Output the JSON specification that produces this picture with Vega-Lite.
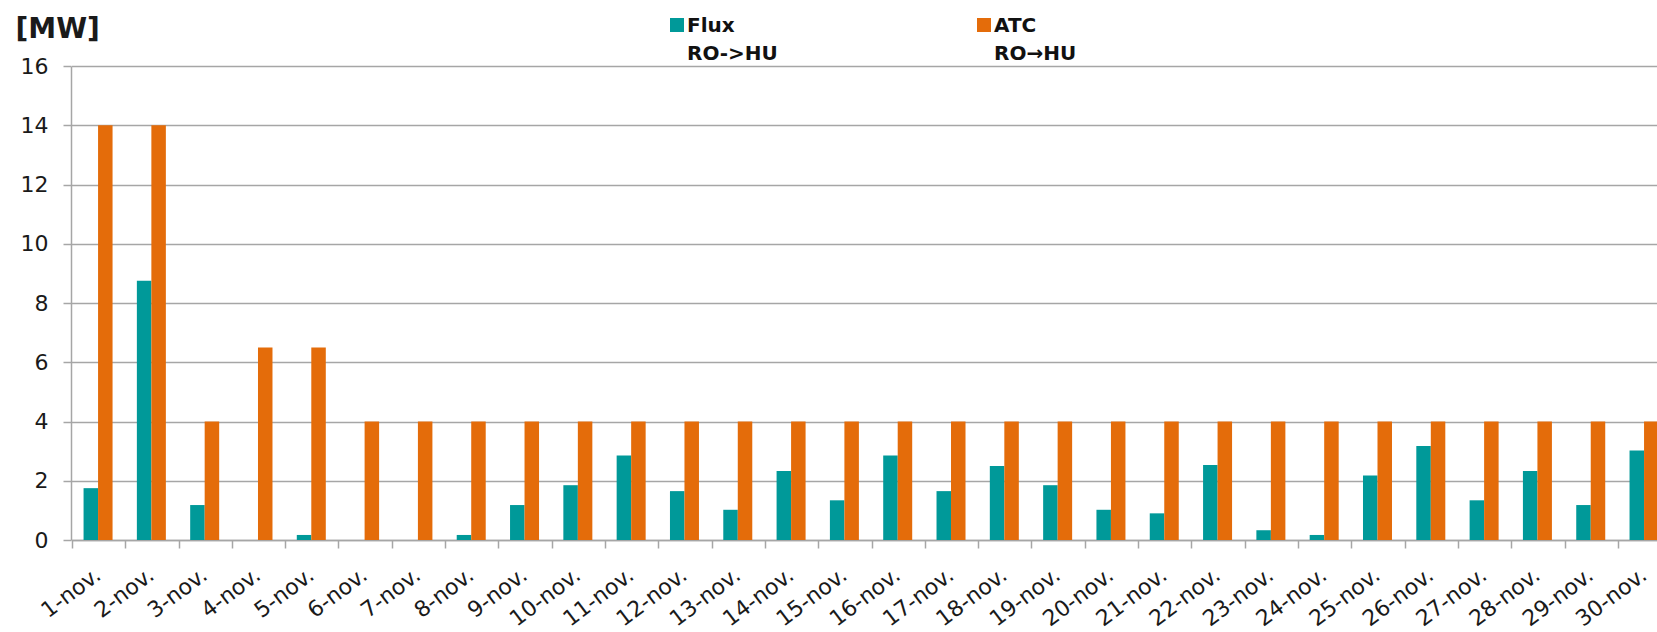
{
  "$schema": "https://vega.github.io/schema/vega-lite/v6.json",
  "width": 1586,
  "height": 474,
  "autosize": {"type": "none"},
  "padding": {"left": 71, "top": 66, "right": 0, "bottom": 92},
  "background": "white",
  "config": {
    "view": {"stroke": null},
    "font": "DejaVu Sans",
    "style": {"guide-label": {"lineHeight": 28}}
  },
  "data": {
    "values": [
      {"day": "1-nov.", "series": "Flux RO->HU", "value": 1.75},
      {"day": "1-nov.", "series": "ATC RO→HU", "value": 14},
      {"day": "2-nov.", "series": "Flux RO->HU", "value": 8.75},
      {"day": "2-nov.", "series": "ATC RO→HU", "value": 14},
      {"day": "3-nov.", "series": "Flux RO->HU", "value": 1.18},
      {"day": "3-nov.", "series": "ATC RO→HU", "value": 4},
      {"day": "4-nov.", "series": "Flux RO->HU", "value": 0},
      {"day": "4-nov.", "series": "ATC RO→HU", "value": 6.5},
      {"day": "5-nov.", "series": "Flux RO->HU", "value": 0.17},
      {"day": "5-nov.", "series": "ATC RO→HU", "value": 6.5},
      {"day": "6-nov.", "series": "Flux RO->HU", "value": 0},
      {"day": "6-nov.", "series": "ATC RO→HU", "value": 4},
      {"day": "7-nov.", "series": "Flux RO->HU", "value": 0},
      {"day": "7-nov.", "series": "ATC RO→HU", "value": 4},
      {"day": "8-nov.", "series": "Flux RO->HU", "value": 0.17},
      {"day": "8-nov.", "series": "ATC RO→HU", "value": 4},
      {"day": "9-nov.", "series": "Flux RO->HU", "value": 1.18},
      {"day": "9-nov.", "series": "ATC RO→HU", "value": 4},
      {"day": "10-nov.", "series": "Flux RO->HU", "value": 1.85},
      {"day": "10-nov.", "series": "ATC RO→HU", "value": 4},
      {"day": "11-nov.", "series": "Flux RO->HU", "value": 2.85},
      {"day": "11-nov.", "series": "ATC RO→HU", "value": 4},
      {"day": "12-nov.", "series": "Flux RO->HU", "value": 1.65},
      {"day": "12-nov.", "series": "ATC RO→HU", "value": 4},
      {"day": "13-nov.", "series": "Flux RO->HU", "value": 1.02},
      {"day": "13-nov.", "series": "ATC RO→HU", "value": 4},
      {"day": "14-nov.", "series": "Flux RO->HU", "value": 2.33},
      {"day": "14-nov.", "series": "ATC RO→HU", "value": 4},
      {"day": "15-nov.", "series": "Flux RO->HU", "value": 1.34},
      {"day": "15-nov.", "series": "ATC RO→HU", "value": 4},
      {"day": "16-nov.", "series": "Flux RO->HU", "value": 2.85},
      {"day": "16-nov.", "series": "ATC RO→HU", "value": 4},
      {"day": "17-nov.", "series": "Flux RO->HU", "value": 1.65},
      {"day": "17-nov.", "series": "ATC RO→HU", "value": 4},
      {"day": "18-nov.", "series": "Flux RO->HU", "value": 2.5},
      {"day": "18-nov.", "series": "ATC RO→HU", "value": 4},
      {"day": "19-nov.", "series": "Flux RO->HU", "value": 1.85},
      {"day": "19-nov.", "series": "ATC RO→HU", "value": 4},
      {"day": "20-nov.", "series": "Flux RO->HU", "value": 1.02},
      {"day": "20-nov.", "series": "ATC RO→HU", "value": 4},
      {"day": "21-nov.", "series": "Flux RO->HU", "value": 0.9},
      {"day": "21-nov.", "series": "ATC RO→HU", "value": 4},
      {"day": "22-nov.", "series": "Flux RO->HU", "value": 2.53},
      {"day": "22-nov.", "series": "ATC RO→HU", "value": 4},
      {"day": "23-nov.", "series": "Flux RO->HU", "value": 0.33},
      {"day": "23-nov.", "series": "ATC RO→HU", "value": 4},
      {"day": "24-nov.", "series": "Flux RO->HU", "value": 0.17},
      {"day": "24-nov.", "series": "ATC RO→HU", "value": 4},
      {"day": "25-nov.", "series": "Flux RO->HU", "value": 2.18},
      {"day": "25-nov.", "series": "ATC RO→HU", "value": 4},
      {"day": "26-nov.", "series": "Flux RO->HU", "value": 3.17},
      {"day": "26-nov.", "series": "ATC RO→HU", "value": 4},
      {"day": "27-nov.", "series": "Flux RO->HU", "value": 1.34},
      {"day": "27-nov.", "series": "ATC RO→HU", "value": 4},
      {"day": "28-nov.", "series": "Flux RO->HU", "value": 2.33},
      {"day": "28-nov.", "series": "ATC RO→HU", "value": 4},
      {"day": "29-nov.", "series": "Flux RO->HU", "value": 1.18},
      {"day": "29-nov.", "series": "ATC RO→HU", "value": 4},
      {"day": "30-nov.", "series": "Flux RO->HU", "value": 3.02},
      {"day": "30-nov.", "series": "ATC RO→HU", "value": 4}
    ]
  },
  "mark": {"type": "bar", "clip": true},
  "encoding": {
    "x": {
      "field": "day",
      "type": "nominal",
      "sort": null,
      "scale": {"range": [0.4, 1599.7], "paddingInner": 0.456, "paddingOuter": 0.228},
      "axis": {
        "title": null,
        "labelAngle": -37,
        "labelAlign": "right",
        "labelBaseline": "middle",
        "labelFontSize": 22,
        "labelColor": "#1a1a1a",
        "labelPadding": 24,
        "labelOverlap": false,
        "bandPosition": -0.385,
        "tickSize": 8,
        "tickColor": "#A6A6A6",
        "tickWidth": 1.5,
        "domainColor": "#A6A6A6",
        "domainWidth": 1.5,
        "grid": false
      }
    },
    "xOffset": {"field": "series", "type": "nominal", "sort": ["Flux RO->HU", "ATC RO→HU"]},
    "y": {
      "field": "value",
      "type": "quantitative",
      "scale": {"domain": [0, 16], "nice": false},
      "axis": {
        "title": "[MW]",
        "titleAngle": 0,
        "titleAlign": "left",
        "titleBaseline": "alphabetic",
        "titleX": -56,
        "titleY": -29,
        "titleFontSize": 28,
        "titleFontWeight": "bold",
        "titleColor": "#1a1a1a",
        "values": [0, 2, 4, 6, 8, 10, 12, 14, 16],
        "labelFontSize": 22,
        "labelColor": "#1a1a1a",
        "labelPadding": 15,
        "tickSize": 8,
        "tickColor": "#A6A6A6",
        "tickWidth": 1.5,
        "domainColor": "#A6A6A6",
        "domainWidth": 1.5,
        "gridColor": "#A6A6A6",
        "gridWidth": 1.5
      }
    },
    "color": {
      "field": "series",
      "type": "nominal",
      "sort": ["Flux RO->HU", "ATC RO→HU"],
      "scale": {"domain": ["Flux RO->HU", "ATC RO→HU"], "range": ["#009999", "#E46C0A"]},
      "legend": {
        "orient": "none",
        "legendX": 596,
        "legendY": -44,
        "direction": "horizontal",
        "title": null,
        "symbolType": "M-1,-2H1V0H-1Z",
        "symbolSize": 196,
        "symbolStrokeWidth": 0,
        "symbolOpacity": 1,
        "labelFontSize": 20,
        "labelFontWeight": "bold",
        "labelColor": "#111111",
        "labelExpr": "split(datum.label, ' ')",
        "labelOffset": 0,
        "labelLimit": 0,
        "labelBaseline": "alphabetic",
        "columnPadding": 196
      }
    }
  }
}
